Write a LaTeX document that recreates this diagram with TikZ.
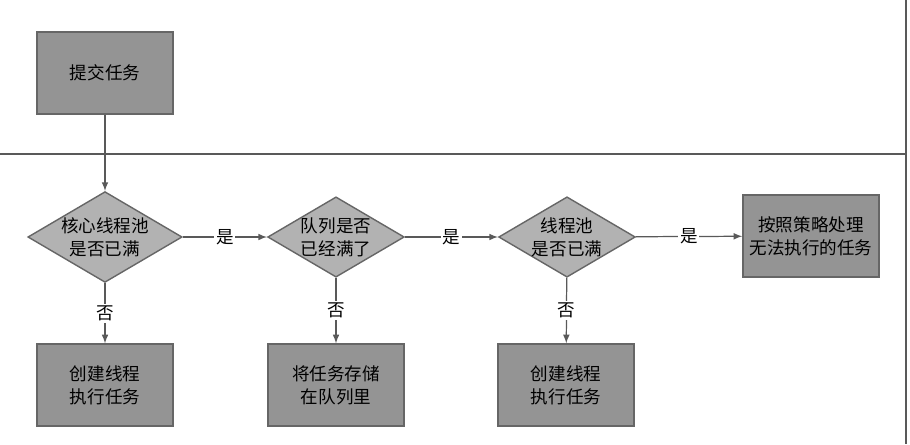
\documentclass[tikz,border=0pt]{standalone}
\usepackage{fontspec}
\newfontfamily\cjk{Noto Sans CJK SC}
\usetikzlibrary{positioning, shapes.geometric, arrows}
\begin{document}
\begin{tikzpicture}[x=0.02cm, y=-0.02cm, font=\cjk\fontsize{10}{13}\selectfont,
  box/.style={draw=black!60, fill=black!42, minimum width=2.72cm, minimum height=1.64cm, align=center, inner sep=0pt, line width=0.8pt},
  test/.style={draw=black!60, fill=black!30, shape=diamond, minimum width=2.72cm, minimum height=1.6cm, shape aspect=1.7, align=center, inner sep=0pt, line width=0.8pt},
  flow/.style={draw=black!65, line width=0.7pt, -latex}]

% Manually size the picture
\useasboundingbox (0, 0) rectangle (910, 444);

% Lane borders
\draw[black!65, line width=1.3pt] (0, 154) -- (906, 154);
\draw[black!65, line width=1.3pt] (906, 0) -- (906, 444);

% Submit
\node[box] (submit) at (105, 73) {提交任务};

% Decisions
\node[test] (core) at (105, 237) {核心线程池\\是否已满};
\node[test] (queue) at (336, 237) {队列是否\\已经满了};
\node[test] (pool) at (567, 237) {线程池\\是否已满};

% Results
\node[box] (reject) at (811, 236) {按照策略处理\\无法执行的任务};
\node[box] (create1) at (105, 385) {创建线程\\执行任务};
\node[box] (store) at (336, 385) {将任务存储\\在队列里};
\node[box] (create2) at (566, 385) {创建线程\\执行任务};

% Connectors
\draw[flow] (submit) -- (core);
\draw[flow] (core) -- node[fill=white, inner sep=1pt] {是} (queue);
\draw[flow] (queue) -- node[fill=white, inner sep=1pt] {是} (pool);
\draw[flow] (pool) -- node[fill=white, inner sep=1pt] {是} (reject);
\draw[flow] (core) -- node[fill=white, inner sep=1pt] {否} (create1);
\draw[flow] (queue) -- node[fill=white, inner sep=1pt] {否} (store);
\draw[flow] (pool) -- node[fill=white, inner sep=1pt] {否} (create2);

\end{tikzpicture}
\end{document}
